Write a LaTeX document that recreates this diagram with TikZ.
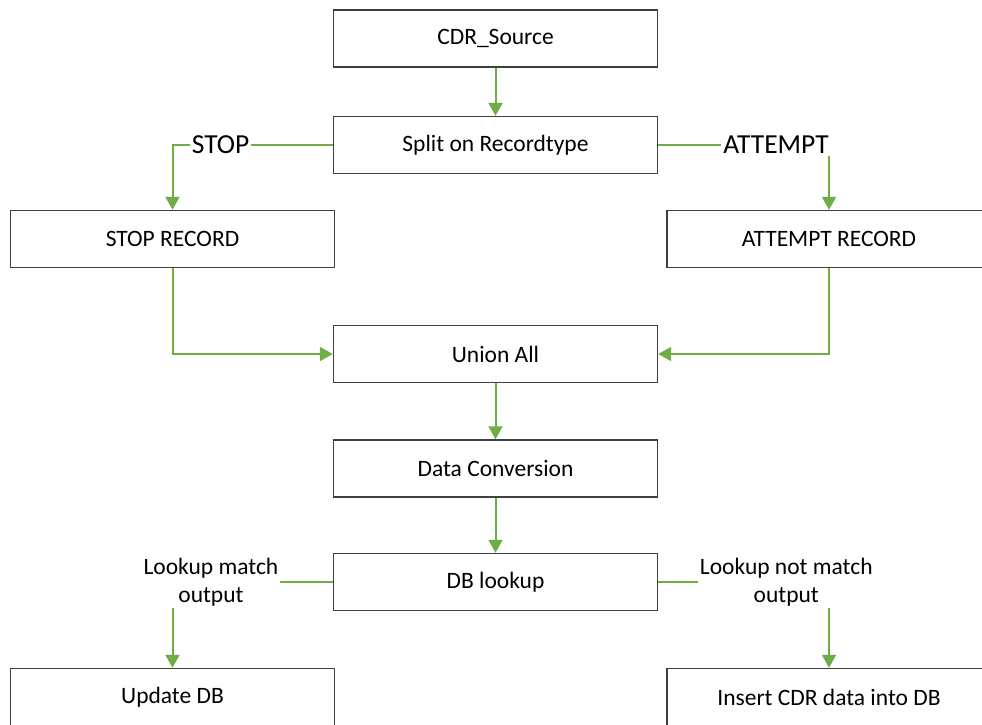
\documentclass[tikz,border=0pt]{standalone}
\usepackage{fontspec}
\setmainfont{Carlito}
\usetikzlibrary{arrows.meta}
\definecolor{flowgreen}{HTML}{70AD47}
\definecolor{boxgray}{HTML}{3F3F3F}
\begin{document}
\begin{tikzpicture}[x=1pt,y=-1pt]
\tikzstyle{stage}=[draw=boxgray, line width=1.4pt, rectangle, minimum width=324pt, minimum height=57pt, inner sep=0pt, font=\fontsize{23.5}{28}\selectfont, text=black]
\tikzstyle{flow}=[draw=flowgreen, line width=2pt, -{Triangle[width=14pt,length=13pt]}]
\tikzstyle{branch}=[fill=white, inner sep=2pt, font=\fontsize{27.5}{30}\selectfont]
\tikzstyle{result}=[fill=white, inner sep=2pt, align=center, font=\fontsize{23.5}{28}\selectfont]

\useasboundingbox (0,0) rectangle (982,724);

% Define stages
\node[stage] (source) at (495.5,38.5) {CDR\_Source};
\node[stage] (split) at (495.5,145) {Split on Recordtype};
\node[stage] (stoprec) at (172.5,239) {STOP RECORD};
\node[stage] (attemptrec) at (829,239) {ATTEMPT RECORD};
\node[stage] (union) at (495.5,354) {Union All};
\node[stage] (convert) at (495.5,468.5) {Data Conversion};
\node[stage] (lookup) at (495.5,582) {DB lookup};
\node[stage] (update) at (172.5,697) {Update DB};
\node[stage] (insert) at (829,697) {Insert CDR data into DB};

% Data flow
\draw[flow] (source) -- (split);
\draw[flow] (split.west) -- node[branch, pos=0.7] {STOP} (stoprec.north |- split.west) -- (stoprec.north);
\draw[flow] (split.east) -- node[branch, pos=0.69] {ATTEMPT} (attemptrec.north |- split.east) -- (attemptrec.north);
\draw[flow] (stoprec.south) |- (union.west);
\draw[flow] (attemptrec.south) |- (union.east);
\draw[flow] (union) -- (convert);
\draw[flow] (convert) -- (lookup);
\draw[flow] (lookup.west) -- node[result, pos=0.76] {Lookup match\\output} (update.north |- lookup.west) -- (update.north);
\draw[flow] (lookup.east) -- node[result, pos=0.75] {Lookup not match\\output} (insert.north |- lookup.east) -- (insert.north);
\end{tikzpicture}
\end{document}
